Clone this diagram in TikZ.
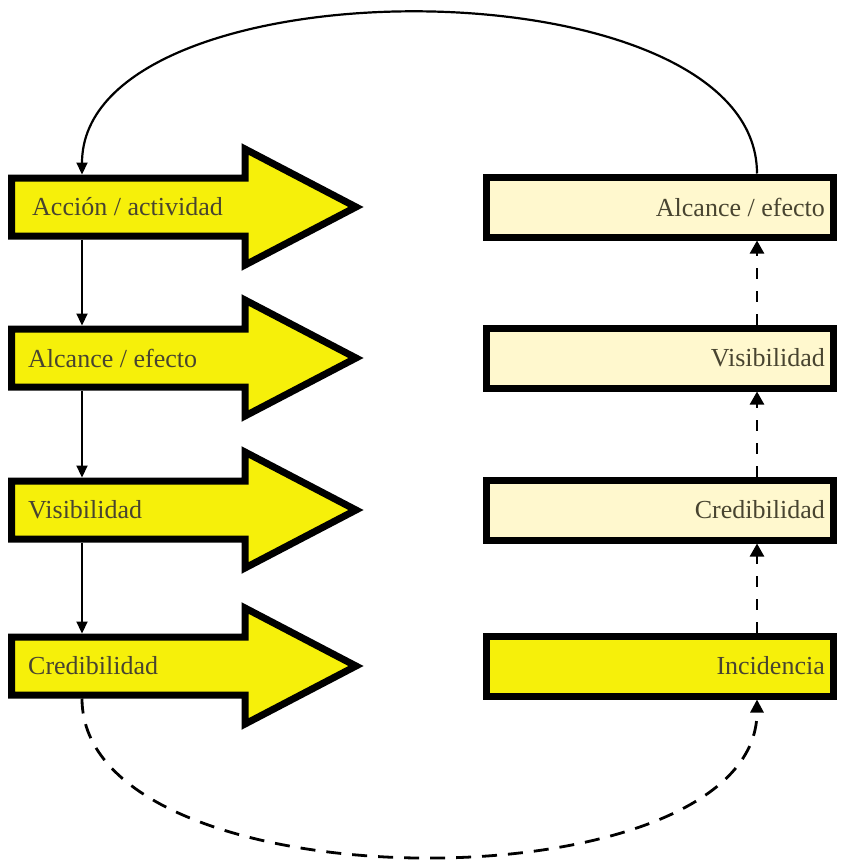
\documentclass[tikz,border=0pt]{standalone}
\usepackage{fontspec}
\setmainfont{Liberation Serif}
\usetikzlibrary{arrows.meta}
\definecolor{ayellow}{RGB}{246,240,10}
\definecolor{acream}{RGB}{255,248,206}
\definecolor{atext}{RGB}{72,68,48}
\begin{document}
\begin{tikzpicture}[x=1pt,y=-1pt,
  arrowshape/.style={draw=black,fill=ayellow,line width=7pt,line join=miter},
  rbox/.style={draw=black,line width=7pt,minimum width=347pt,minimum height=60pt,inner sep=0pt},
  lbl/.style={text=atext,font=\fontsize{26}{30}\selectfont,inner sep=0pt},
  conn/.style={line width=2.2pt,-{Triangle[length=12pt,width=11pt]}},
  dconn/.style={line width=2.4pt,-{Triangle[length=13pt,width=14pt]},dash pattern=on 11pt off 12pt},
  cconn/.style={line width=2.8pt,-{Triangle[length=13pt,width=13pt]},dash pattern=on 15pt off 11pt}]
\useasboundingbox (0,0) rectangle (842,865);
\coordinate (Rx) at (757,0);
% left arrows
\foreach \c/\n/\t/\tx in {207/1/{Acción / actividad}/32,358/2/{Alcance / efecto}/28,510/3/{Visibilidad}/28,666/4/{Credibilidad}/28}{
  \draw[arrowshape] (11.5,{\c-29}) -- (245,{\c-29}) -- (245,{\c-58}) -- (356,\c) -- (245,{\c+58}) -- (245,{\c+29}) -- (11.5,{\c+29}) -- cycle;
  \coordinate (Lt\n) at (82,{\c-32.5});
  \coordinate (Lb\n) at (82,{\c+32.5});
  \node[lbl,anchor=west] (LT\n) at (\tx,\c) {\t};
}
% right boxes
\node[rbox,fill=acream] (R1) at (660,207) {};
\node[rbox,fill=acream] (R2) at (660,358) {};
\node[rbox,fill=acream] (R3) at (660,510) {};
\node[rbox,fill=ayellow] (R4) at (660,666) {};
\node[lbl,anchor=east] (RT1) at (825,207) {Alcance / efecto};
\node[lbl,anchor=east] (RT2) at (825,358) {Visibilidad};
\node[lbl,anchor=east] (RT3) at (825,510) {Credibilidad};
\node[lbl,anchor=east] (RT4) at (825,666) {Incidencia};
% left connectors
\draw[conn] (Lb1) -- (Lt2);
\draw[conn] (Lb2) -- (Lt3);
\draw[conn] (Lb3) -- (Lt4);
% right dashed connectors
\draw[dconn] (R2.north -| Rx) -- (R1.south -| Rx);
\draw[dconn] (R3.north -| Rx) -- (R2.south -| Rx);
\draw[dconn] (R4.north -| Rx) -- (R3.south -| Rx);
% top loop
\draw[conn] (R1.north -| Rx) .. controls +(0,-215) and +(0,-215) .. (Lt1);
% bottom dashed loop
\draw[cconn] (Lb4) .. controls +(0,210) and +(0,210) .. (R4.south -| Rx);
\end{tikzpicture}
\end{document}
